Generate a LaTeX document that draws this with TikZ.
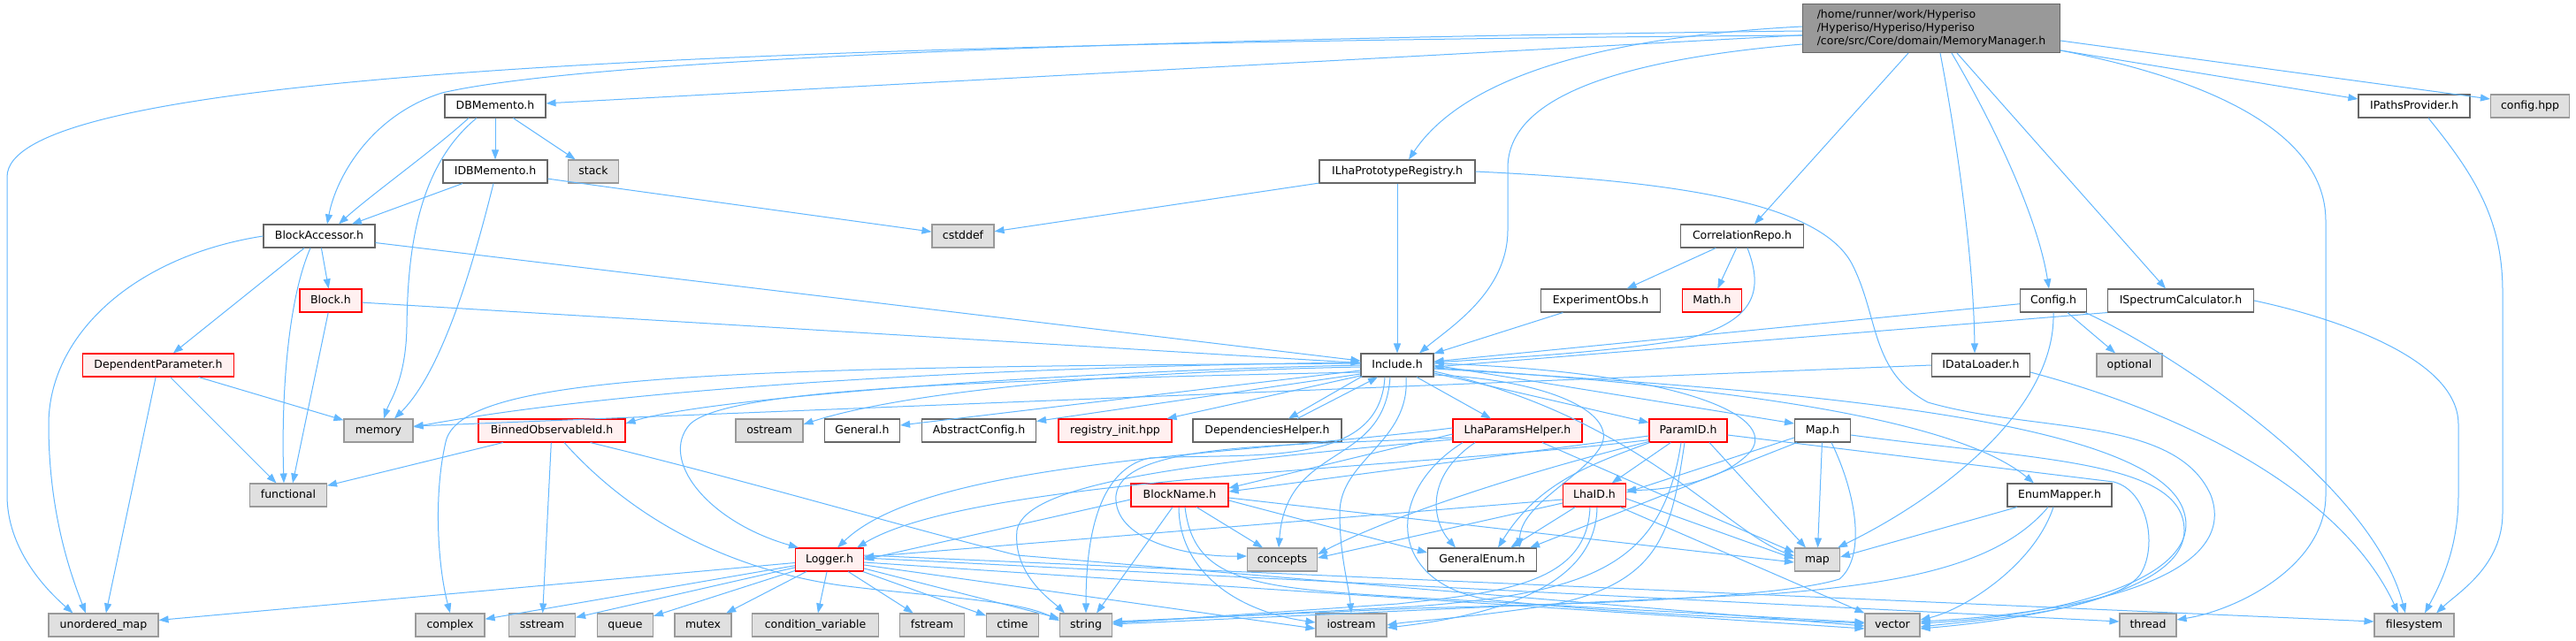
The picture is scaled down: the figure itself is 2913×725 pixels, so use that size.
\documentclass[tikz,border=0pt]{standalone}
\usepackage{fontspec}
\setmainfont{DejaVu Sans}
\usetikzlibrary{arrows.meta,calc}
\definecolor{edgec}{HTML}{63B8FF}
\definecolor{nbord}{HTML}{666666}
\definecolor{rfill}{HTML}{FFF0F0}
\definecolor{rbord}{HTML}{FF0000}
\definecolor{gfill}{HTML}{E0E0E0}
\definecolor{gbord}{HTML}{999999}
\definecolor{mmfill}{HTML}{999999}
\begin{document}
\begin{tikzpicture}[x=1pt,y=-1pt,
  bx/.style={draw, line width=1.1pt, minimum height=26pt, inner sep=0pt, font=\fontsize{12.5}{15}\selectfont, text height=9.3pt, text depth=2.6pt},
  wn/.style={bx, draw=nbord, fill=white},
  rn/.style={bx, draw=rbord, fill=rfill},
  gn/.style={bx, draw=gbord, fill=gfill},
  mmn/.style={draw=nbord, fill=mmfill, line width=1.1pt, minimum height=55pt, inner sep=0pt, align=left, font=\fontsize{12.5}{15}\selectfont},
  edg/.style={draw=edgec, line width=1pt, -{Triangle[length=11pt,width=8pt]}}
]
\fill[white] (0,0) rectangle (2913,725);
\useasboundingbox (0,0) rectangle (2913,725);

% nodes
\node[mmn, minimum width=291pt] (MM) at (2184,32) {/home/runner/work/Hyperiso\\/Hyperiso/Hyperiso/Hyperiso\\/core/src/Core/domain/MemoryManager.h};
\node[wn, minimum width=114pt] (DBM) at (560,120) {DBMemento.h};
\node[wn, minimum width=118pt] (IDBM) at (560,194) {IDBMemento.h};
\node[gn, minimum width=57pt] (stack) at (671,194) {stack};
\node[wn, minimum width=176pt] (ILPR) at (1580,194) {ILhaPrototypeRegistry.h};
\node[wn, minimum width=126pt] (IPP) at (2730,120) {IPathsProvider.h};
\node[gn, minimum width=89pt] (cfg) at (2861,120) {config.hpp};
\node[wn, minimum width=126pt] (BA) at (361,267) {BlockAccessor.h};
\node[gn, minimum width=70pt] (cstddef) at (1089,267) {cstddef};
\node[wn, minimum width=139pt] (CR) at (1970,267) {CorrelationRepo.h};
\node[rn, minimum width=70pt] (Block) at (374,340) {Block.h};
\node[wn, minimum width=135pt] (EO) at (1810,340) {ExperimentObs.h};
\node[rn, minimum width=67pt] (Math) at (1936,340) {Math.h};
\node[wn, minimum width=75pt] (Config) at (2322,340) {Config.h};
\node[wn, minimum width=165pt] (ISC) at (2466,340) {ISpectrumCalculator.h};
\node[rn, minimum width=171pt] (DP) at (179,413) {DependentParameter.h};
\node[wn, minimum width=82pt] (Inc) at (1580,413) {Include.h};
\node[wn, minimum width=111pt] (IDL) at (2240,413) {IDataLoader.h};
\node[gn, minimum width=74pt] (optional) at (2408,413) {optional};
\node[gn, minimum width=78pt] (memory) at (428,487) {memory};
\node[rn, minimum width=166pt] (BOI) at (624,487) {BinnedObservableId.h};
\node[gn, minimum width=76pt] (ostream) at (870,487) {ostream};
\node[wn, minimum width=85pt] (General) at (975,487) {General.h};
\node[wn, minimum width=129pt] (AC) at (1107,487) {AbstractConfig.h};
\node[rn, minimum width=128pt] (RI) at (1261,487) {registry\_init.hpp};
\node[wn, minimum width=168pt] (DH) at (1433,487) {DependenciesHelper.h};
\node[rn, minimum width=146pt] (LPH) at (1716,487) {LhaParamsHelper.h};
\node[rn, minimum width=88pt] (PID) at (1909,487) {ParamID.h};
\node[wn, minimum width=63pt] (MapH) at (2061,487) {Map.h};
\node[gn, minimum width=87pt] (functional) at (326,560) {functional};
\node[rn, minimum width=110pt] (BN) at (1334,560) {BlockName.h};
\node[rn, minimum width=71pt] (LhaID) at (1803,560) {LhaID.h};
\node[wn, minimum width=118pt] (EM) at (2329,560) {EnumMapper.h};
\node[rn, minimum width=77pt] (Logger) at (938,633) {Logger.h};
\node[gn, minimum width=79pt] (concepts) at (1450,633) {concepts};
\node[wn, minimum width=123pt] (GE) at (1676,633) {GeneralEnum.h};
\node[gn, minimum width=51pt] (map) at (2055,633) {map};
\node[gn, minimum width=124pt] (uomap) at (117,707) {unordered\_map};
\node[gn, minimum width=78pt] (complex) at (509,707) {complex};
\node[gn, minimum width=75pt] (sstream) at (613,707) {sstream};
\node[gn, minimum width=63pt] (queue) at (707,707) {queue};
\node[gn, minimum width=64pt] (mutex) at (795,707) {mutex};
\node[gn, minimum width=143pt] (condvar) at (922,707) {condition\_variable};
\node[gn, minimum width=73pt] (fstream) at (1054,707) {fstream};
\node[gn, minimum width=59pt] (ctime) at (1145,707) {ctime};
\node[gn, minimum width=59pt] (string) at (1228,707) {string};
\node[gn, minimum width=80pt] (iostream) at (1528,707) {iostream};
\node[gn, minimum width=62pt] (vector) at (2140,707) {vector};
\node[gn, minimum width=64pt] (thread) at (2429,707) {thread};
\node[gn, minimum width=90pt] (fs) at (2730,707) {filesystem};

% MemoryManager.h
\draw[edg] (MM) -- (DBM);
\draw[edg] ($(MM.west)+(0,3)$) .. controls (1200,45) and (650,70) .. (500,105) .. controls (420,130) and (380,200) .. ($(BA.north)+(9,0)$);
\draw[edg] ($(MM.west)+(0,8)$) .. controls (700,50) and (8,90) .. (8,200) -- (8,560) .. controls (8,620) and (50,665) .. ($(uomap.north west)+(28,0)$);
\draw[edg] ($(MM.west)+(0,-2)$) .. controls (1750,45) and (1640,110) .. ($(ILPR.north)+(13,0)$);
\draw[edg] ($(MM.west)+(0,18)$) .. controls (1800,70) and (1705,120) .. (1705,190) -- (1705,260) .. controls (1705,330) and (1640,370) .. ($(Inc.north)+(25,0)$);
\draw[edg] ($(MM.south)+(-26,0)$) -- ($(CR.north)+(14,0)$);
\draw[edg] ($(MM.south)+(10,0)$) .. controls (2215,170) and (2232,300) .. ($(IDL.north)+(-7,0)$);
\draw[edg] ($(MM.south)+(23,0)$) .. controls (2260,150) and (2305,250) .. ($(Config.north)+(-5,0)$);
\draw[edg] ($(MM.south)+(29,0)$) -- ($(ISC.north)+(-17,0)$);
\draw[edg] ($(MM.east)+(0,25)$) .. controls (2500,90) and (2630,150) .. (2630,250) -- (2630,560) .. controls (2630,640) and (2530,690) .. ($(thread.east)+(0,-6)$);
\draw[edg] ($(MM.east)+(0,25)$) -- ($(IPP.west)+(0,-8)$);
\draw[edg] ($(MM.east)+(0,14)$) -- ($(cfg.west)+(0,-8)$);

% DBMemento.h
\draw[edg] ($(DBM.south)+(-30,0)$) .. controls (490,170) and (420,220) .. ($(BA.north)+(22,0)$);
\draw[edg] ($(DBM.south)+(-21,0)$) .. controls (470,190) and (461,290) .. (460,370) .. controls (459,430) and (440,455) .. ($(memory.north)+(6,0)$);
\draw[edg] (DBM) -- (IDBM);
\draw[edg] (DBM) -- (stack);
% IDBMemento.h
\draw[edg] (IDBM) -- (BA);
\draw[edg] ($(IDBM.south)+(-2,0)$) .. controls (535,300) and (500,420) .. ($(memory.north)+(18,0)$);
\draw[edg] (IDBM) -- (cstddef);
% BlockAccessor.h
\draw[edg] (BA) -- (DP);
\draw[edg] (BA) -- (Block);
\draw[edg] ($(BA.south)+(-10,0)$) .. controls (325,340) and (318,450) .. ($(functional.north)+(-5,0)$);
\draw[edg] (BA.west) .. controls (150,290) and (55,380) .. (55,480) .. controls (55,580) and (80,650) .. ($(uomap.north)+(-20,0)$);
\draw[edg] (BA) -- (Inc);
% Block.h
\draw[edg] (Block) -- ($(functional.north)+(5,0)$);
\draw[edg] (Block) -- (Inc);
% DependentParameter.h
\draw[edg] (DP) -- (memory);
\draw[edg] (DP) -- (functional);
\draw[edg] (DP) -- (uomap);
% ILhaPrototypeRegistry.h
\draw[edg] (ILPR) -- (cstddef);
\draw[edg] (ILPR) -- (Inc);
\draw[edg] (ILPR.east) .. controls (1900,205) and (2060,230) .. (2095,300) .. controls (2125,360) and (2115,420) .. (2180,455) .. controls (2300,490) and (2460,470) .. (2500,560) .. controls (2530,640) and (2400,690) .. ($(vector.east)+(0,-4)$);
% CorrelationRepo.h
\draw[edg] (CR) -- (EO);
\draw[edg] (CR) -- (Math);
\draw[edg] ($(CR.south)+(6,0)$) .. controls (1995,330) and (1985,365) .. (1900,385) .. controls (1800,400) and (1700,405) .. ($(Inc.east)+(0,-3)$);
% ExperimentObs.h
\draw[edg] (EO) -- (Inc);
% Config.h
\draw[edg] (Config) -- (Inc);
\draw[edg] (Config.south) .. controls (2325,460) and (2200,560) .. ($(map.north east)+(-3,0)$);
\draw[edg] (Config) -- (optional);
\draw[edg] ($(Config.south east)+(-2,0)$) .. controls (2440,390) and (2680,540) .. ($(fs.north)+(-10,0)$);
% ISpectrumCalculator.h
\draw[edg] (ISC.south west) -- ($(Inc.east)+(0,2)$);
\draw[edg] (ISC.east) .. controls (2620,355) and (2780,400) .. (2780,480) -- (2780,560) .. controls (2780,620) and (2760,660) .. ($(fs.north)+(12,0)$);
% IDataLoader.h
\draw[edg] (IDL.west) -- ($(memory.east)+(0,-5)$);
\draw[edg] ($(IDL.east)+(0,8)$) .. controls (2480,470) and (2650,560) .. ($(fs.north)+(-18,0)$);
% IPathsProvider.h
\draw[edg] ($(IPP.south)+(16,0)$) .. controls (2800,200) and (2830,250) .. (2830,330) -- (2830,580) .. controls (2830,640) and (2780,670) .. ($(fs.north)+(25,0)$);

% Include.h
\draw[edg] ($(Inc.west)+(0,-3)$) .. controls (1100,415) and (700,440) .. ($(memory.east)+(0,-4)$);
\draw[edg] (Inc.west) .. controls (1200,420) and (800,450) .. ($(BOI.east)+(0,-8)$);
\draw[edg] ($(Inc.west)+(0,2)$) .. controls (1200,422) and (1000,450) .. ($(ostream.east)+(0,-7)$);
\draw[edg] ($(Inc.west)+(0,6)$) -- ($(General.east)+(0,-6)$);
\draw[edg] ($(Inc.west)+(0,10)$) -- ($(AC.north east)+(0,3)$);
\draw[edg] ($(Inc.west)+(0,12)$) -- ($(RI.north east)+(-6,0)$);
\draw[edg] ($(Inc.south west)+(2,-1)$) -- ($(DH.north)+(24,0)$);
\draw[edg] ($(DH.north)+(34,0)$) -- ($(Inc.south)+(-22,0)$);
\draw[edg] ($(Inc.south)+(22,0)$) -- ($(LPH.north)+(-30,0)$);
\draw[edg] ($(Inc.east)+(0,9)$) -- ($(PID.west)+(0,-9)$);
\draw[edg] (Inc.east) -- ($(MapH.west)+(0,-8)$);
\draw[edg] ($(Inc.east)+(0,3)$) .. controls (2000,440) and (2220,480) .. ($(EM.north)+(-29,0)$);
\draw[edg] ($(Inc.west)+(0,8)$) .. controls (1100,430) and (820,440) .. (780,480) .. controls (745,520) and (800,590) .. ($(Logger.north west)+(4,0)$);
\draw[edg] ($(Inc.west)+(0,-2)$) .. controls (800,415) and (520,425) .. (504,500) .. controls (490,560) and (495,640) .. (complex.north);
\draw[edg] ($(Inc.south)+(-8,0)$) .. controls (1565,530) and (1455,500) .. ($(concepts.north)+(-4,0)$);
\draw[edg] ($(Inc.south)+(-14,0)$) .. controls (1560,530) and (1420,512) .. (1300,518) .. controls (1245,530) and (1228,600) .. (string.north);
\draw[edg] ($(Inc.south)+(10,0)$) .. controls (1595,500) and (1515,520) .. (1515,580) .. controls (1515,630) and (1525,660) .. (iostream.north);
\draw[edg] ($(Inc.east)+(0,4)$) .. controls (2000,440) and (2440,470) .. (2470,580) .. controls (2490,650) and (2350,695) .. ($(vector.east)+(0,-2)$);
\draw[edg] ($(Inc.east)+(0,7)$) .. controls (1850,470) and (1950,600) .. ($(map.west)+(0,-4)$);
\draw[edg] ($(Inc.east)+(0,-2)$) .. controls (1900,420) and (2010,470) .. (1980,510) .. controls (1950,545) and (1880,555) .. ($(LhaID.east)+(0,-6)$);
\draw[edg] ($(Inc.east)+(0,11)$) .. controls (1760,430) and (1830,470) .. (1810,505) .. controls (1790,540) and (1720,570) .. ($(GE.north east)+(-20,0)$);

% LhaParamsHelper.h
\draw[edg] ($(LPH.west)+(0,4)$) -- ($(BN.east)+(0,-8)$);
\draw[edg] ($(LPH.west)+(0,-3)$) .. controls (1400,515) and (1050,520) .. ($(Logger.north)+(9,0)$);
\draw[edg] ($(LPH.west)+(0,8)$) .. controls (1450,505) and (1270,500) .. (1262,560) .. controls (1258,610) and (1340,630) .. ($(concepts.west)+(0,-4)$);
\draw[edg] ($(LPH.south)+(-48,0)$) .. controls (1610,540) and (1620,590) .. ($(GE.north)+(-30,0)$);
\draw[edg] ($(LPH.south)+(28,0)$) -- ($(map.west)+(0,-8)$);
\draw[edg] ($(LPH.west)+(0,10)$) .. controls (1400,520) and (1160,540) .. (1150,600) .. controls (1145,650) and (1190,680) .. ($(string.north west)+(6,0)$);
\draw[edg] ($(LPH.south)+(-62,0)$) .. controls (1560,560) and (1570,670) .. (1700,680) .. controls (1850,695) and (2000,700) .. ($(vector.west)+(0,-2)$);

% ParamID.h
\draw[edg] ($(PID.west)+(0,6)$) -- ($(BN.east)+(0,-4)$);
\draw[edg] ($(PID.south west)+(0,-3)$) .. controls (1600,530) and (1100,540) .. ($(Logger.north east)+(-8,0)$);
\draw[edg] (PID) -- (LhaID);
\draw[edg] ($(PID.south west)+(1,0)$) .. controls (1800,525) and (1740,545) .. ($(GE.north)+(18,0)$);
\draw[edg] ($(PID.south west)+(0,-1)$) .. controls (1700,540) and (1560,590) .. ($(concepts.east)+(0,-6)$);
\draw[edg] ($(PID.south)+(24,0)$) -- ($(map.north)+(-13,0)$);
\draw[edg] ($(PID.south)+(-4,0)$) .. controls (1890,600) and (1880,660) .. (1750,685) .. controls (1650,700) and (1600,702) .. (iostream.east);
\draw[edg] ($(PID.south)+(-8,0)$) .. controls (1880,640) and (1800,670) .. (1600,686) -- ($(string.east)+(0,-3)$);
\draw[edg] ($(PID.east)+(0,5)$) -- (2390,545) .. controls (2430,555) and (2440,620) .. (2420,650) .. controls (2390,690) and (2250,700) .. ($(vector.east)+(0,2)$);

% LhaID.h
\draw[edg] ($(LhaID.west)+(0,5)$) -- ($(Logger.east)+(0,-3)$);
\draw[edg] ($(LhaID.west)+(0,9)$) -- ($(concepts.east)+(0,-2)$);
\draw[edg] (LhaID) -- ($(GE.north east)+(-30,0)$);
\draw[edg] ($(LhaID.east)+(0,4)$) -- ($(map.west)+(0,-1)$);
\draw[edg] ($(LhaID.south)+(-5,0)$) .. controls (1795,660) and (1700,670) .. (1580,683) -- ($(string.east)+(0,-2)$);
\draw[edg] ($(LhaID.south)+(3,0)$) .. controls (1805,660) and (1700,695) .. ($(iostream.east)+(0,3)$);
\draw[edg] ($(LhaID.south east)+(-7,0)$) -- (vector.north west);

% BlockName.h
\draw[edg] ($(BN.west)+(0,5)$) -- (Logger.east);
\draw[edg] ($(BN.south)+(-8,0)$) -- ($(string.north)+(12,0)$);
\draw[edg] ($(BN.south)+(-1,0)$) .. controls (1333,640) and (1390,690) .. ($(iostream.west)+(0,-3)$);
\draw[edg] ($(BN.south)+(19,0)$) -- ($(concepts.north)+(-22,0)$);
\draw[edg] ($(BN.east)+(0,6)$) -- ($(GE.west)+(0,-8)$);
\draw[edg] ($(BN.east)+(0,3)$) -- ($(map.west)+(0,3)$);
\draw[edg] ($(BN.south)+(6,0)$) .. controls (1350,660) and (1420,665) .. (1600,676) -- ($(vector.west)+(0,-3)$);

% Map.h
\draw[edg] ($(MapH.west)+(0,8)$) -- ($(LhaID.east)+(0,-3)$);
\draw[edg] ($(MapH.south west)+(3,0)$) -- ($(GE.north east)+(-8,0)$);
\draw[edg] (MapH) -- (map);
\draw[edg] ($(MapH.south)+(10,0)$) .. controls (2100,560) and (2110,630) .. (2080,655) .. controls (2000,680) and (1700,685) .. (1600,688) -- ($(string.east)+(0,-4)$);
\draw[edg] ($(MapH.east)+(0,5)$) .. controls (2300,520) and (2470,520) .. (2470,600) .. controls (2470,670) and (2300,700) .. ($(vector.east)+(0,4)$);

% EnumMapper.h
\draw[edg] (EM) -- ($(map.east)+(0,-3)$);
\draw[edg] ($(EM.south)+(-13,0)$) .. controls (2260,640) and (2150,660) .. (2000,672) -- ($(string.east)+(0,-1)$);
\draw[edg] ($(EM.south)+(-7,0)$) .. controls (2300,640) and (2220,690) .. ($(vector.east)+(0,-6)$);

% Logger.h
\draw[edg] (Logger) -- (uomap);
\draw[edg] (Logger) -- (complex);
\draw[edg] (Logger) -- (sstream);
\draw[edg] (Logger) -- (queue);
\draw[edg] (Logger) -- (mutex);
\draw[edg] (Logger) -- (condvar);
\draw[edg] (Logger) -- (fstream);
\draw[edg] (Logger) -- (ctime);
\draw[edg] (Logger) -- (string);
\draw[edg] ($(Logger.east)+(0,6)$) -- ($(iostream.west)+(0,4)$);
\draw[edg] ($(Logger.east)+(0,3)$) -- ($(vector.west)+(0,4)$);
\draw[edg] ($(Logger.east)+(0,-2)$) -- ($(thread.west)+(0,-4)$);
\draw[edg] ($(Logger.east)+(0,-5)$) -- ($(fs.west)+(0,-4)$);

% BinnedObservableId.h
\draw[edg] (BOI) -- (functional);
\draw[edg] (BOI) -- (sstream);
\draw[edg] ($(BOI.south)+(14,0)$) .. controls (700,570) and (800,640) .. (950,662) .. controls (1050,675) and (1150,678) .. ($(string.west)+(0,-5)$);
\draw[edg] ($(BOI.south east)+(-40,0)$) .. controls (850,545) and (1000,590) .. (1150,628) -- ($(vector.west)+(0,1)$);
\end{tikzpicture}
\end{document}
